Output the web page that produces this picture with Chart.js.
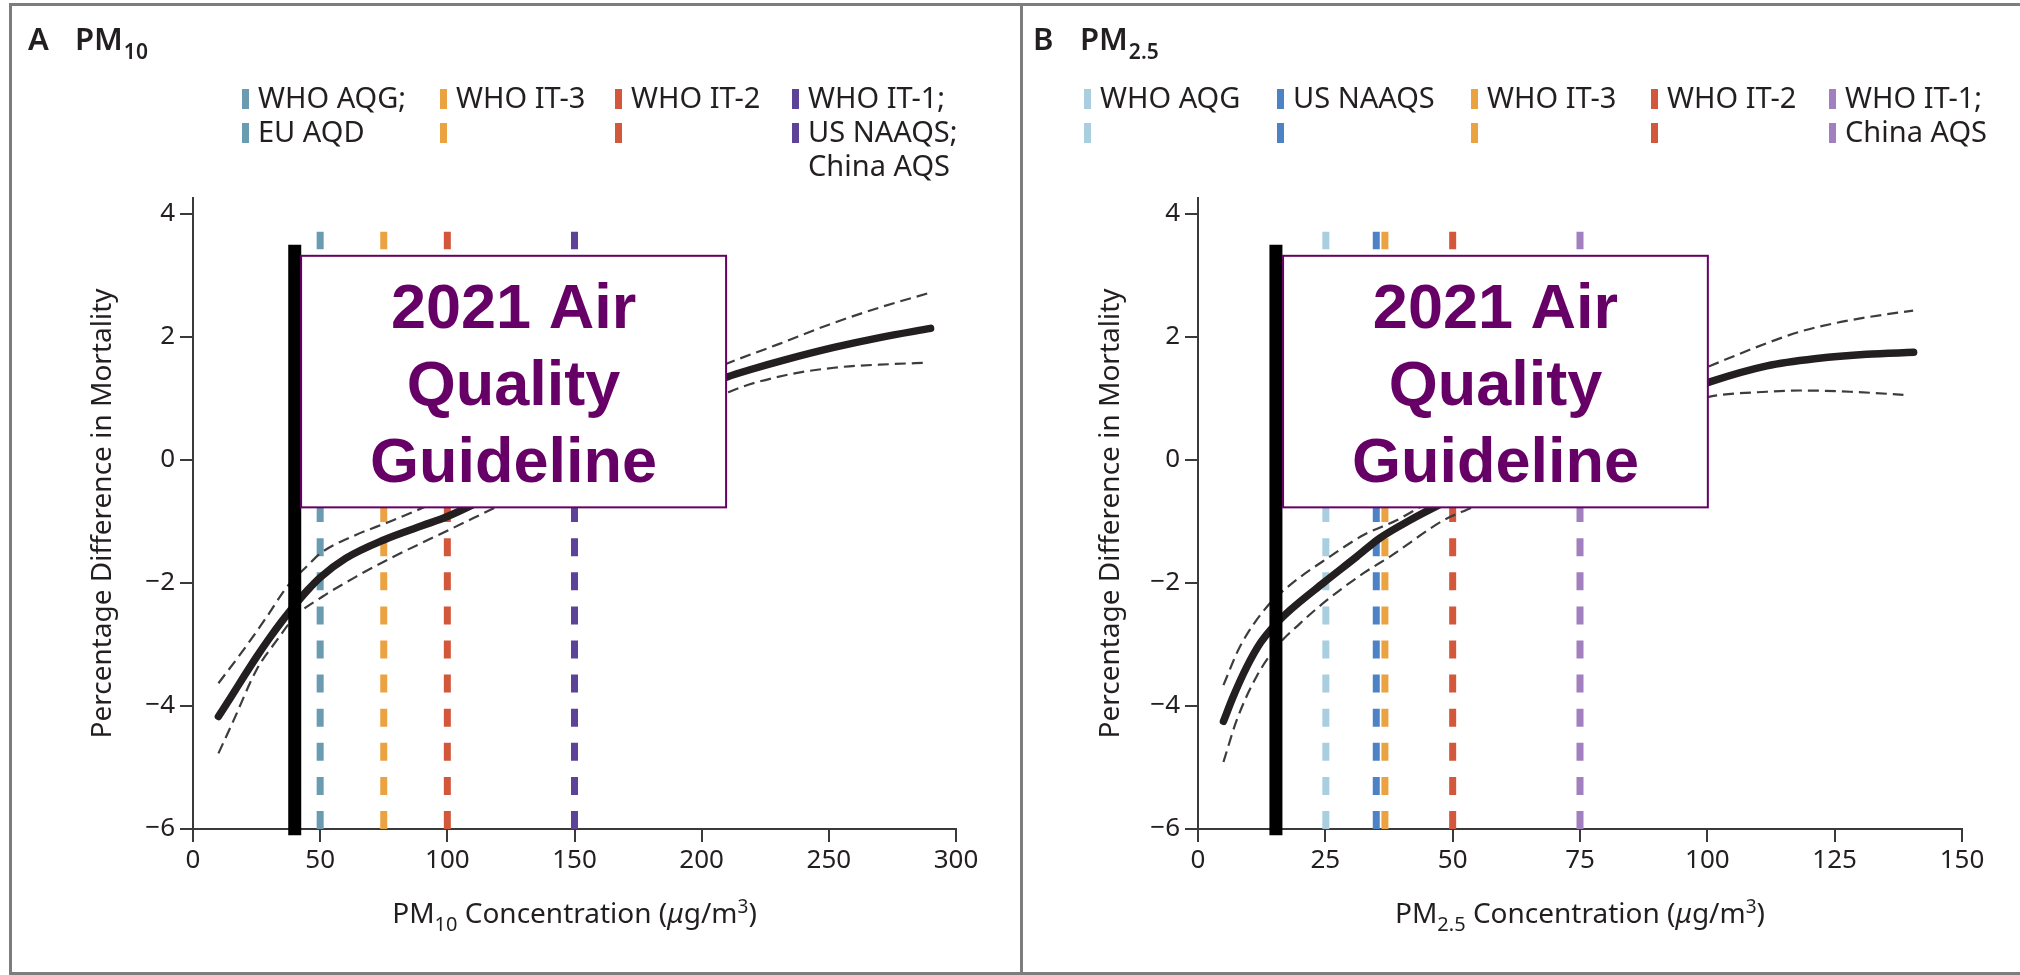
<!DOCTYPE html>
<html><head><meta charset="utf-8">
<script src="https://cdn.jsdelivr.net/npm/chart.js@4.4.1/dist/chart.umd.min.js"></script>
<style>
html,body{margin:0;padding:0;background:#fff;}
#wrap{position:relative;width:2020px;height:975px;overflow:hidden;background:#fff;}
.frame{position:absolute;background:#7d7d7d;}
canvas{position:absolute;top:0;}
</style></head><body>
<div id="wrap">
<canvas id="cA" width="1020" height="975" style="left:0;width:1020px;height:975px"></canvas>
<canvas id="cB" width="997" height="975" style="left:1023px;width:997px;height:975px"></canvas>
<div class="frame" style="left:9px;top:3px;width:2011px;height:3px"></div>
<div class="frame" style="left:9px;top:3px;width:3px;height:972px"></div>
<div class="frame" style="left:1020px;top:3px;width:3px;height:972px"></div>
<div class="frame" style="left:9px;top:972px;width:2011px;height:3px"></div>
</div>
<script>
// ---------------- DATA ----------------
const pm10Ticks = [0, 50, 100, 150, 200, 250, 300];
const pm25Ticks = [0, 25, 50, 75, 100, 125, 150];
const yTicks = [-6, -4, -2, 0, 2, 4];

const pm10CurveX = [10, 15, 20, 25, 30, 35, 40, 45, 50, 60, 75, 90, 100, 125, 150, 175, 200, 210, 220, 232, 252, 270, 290];
const pm10Curve  = [-4.17, -3.85, -3.52, -3.2, -2.9, -2.62, -2.36, -2.12, -1.91, -1.60, -1.30, -1.07, -0.92, -0.42, 0.1, 0.65, 1.18, 1.35, 1.48, 1.62, 1.83, 1.99, 2.14];
const pm10UpperX = [10, 20, 29, 37, 45, 50, 64, 77.5, 100, 125, 150, 175, 200, 210, 230, 250, 270, 289];
const pm10Upper  = [-3.63, -3.08, -2.55, -2.06, -1.72, -1.52, -1.22, -1.0, -0.6, -0.1, 0.45, 0.95, 1.40, 1.57, 1.88, 2.20, 2.48, 2.71];
const pm10LowerX = [10, 16, 25, 33, 40, 51, 64, 77.5, 100, 125, 150, 175, 200, 211, 232, 252, 275, 288];
const pm10Lower  = [-4.77, -4.23, -3.41, -2.93, -2.55, -2.22, -1.90, -1.60, -1.15, -0.65, -0.15, 0.35, 0.85, 1.11, 1.37, 1.50, 1.56, 1.58];

const pm25CurveX = [5, 6.9, 9.6, 12.2, 14.8, 18.1, 24.6, 31.2, 35.7, 41.6, 50, 60, 70, 80, 90, 100.5, 111.7, 121.5, 131.3, 140.5];
const pm25Curve  = [-4.25, -3.85, -3.36, -2.98, -2.71, -2.44, -2.0, -1.57, -1.27, -0.98, -0.62, -0.2, 0.2, 0.58, 0.95, 1.27, 1.53, 1.65, 1.72, 1.75];
const pm25UpperX = [5, 8.2, 13.5, 18.1, 25.9, 32.5, 39, 45, 50, 60, 70, 80, 90, 100.5, 111.7, 118.3, 124.8, 131.3, 140.4];
const pm25Upper  = [-3.66, -3.04, -2.39, -2.03, -1.57, -1.22, -0.98, -0.70, -0.48, -0.05, 0.38, 0.80, 1.18, 1.53, 1.90, 2.09, 2.22, 2.32, 2.43];
const pm25LowerX = [5, 7.6, 11.5, 15.4, 20, 25.3, 32.5, 37.7, 48.2, 55, 60, 70, 80, 90, 100.5, 111.7, 118.3, 128.1, 138.5];
const pm25Lower  = [-4.91, -4.23, -3.52, -3.04, -2.66, -2.28, -1.84, -1.57, -0.98, -0.72, -0.45, 0.0, 0.38, 0.78, 1.03, 1.11, 1.13, 1.11, 1.06];

const pm10Standards = [50, 75, 100, 150];
const pm10StandardLabels = [["WHO AQG;", "EU AQD"], ["WHO IT-3", ""], ["WHO IT-2", ""], ["WHO IT-1;", "US NAAQS;", "China AQS"]];
const pm25Standards = [25.1, 35, 36.7, 50, 75];
const pm25StandardLabels = [["WHO AQG", ""], ["US NAAQS", ""], ["WHO IT-3", ""], ["WHO IT-2", ""], ["WHO IT-1;", "China AQS"]];
const standardRange = [-6, 3.71];

const pm10Guideline = 40;
const pm25Guideline = 15.3;
const guidelineRange = [-6.1, 3.5];

const pm10BoxX = [42.5, 209.6];
const pm25BoxX = [16.7, 100.1];
const boxY = [-0.77, 3.32];
const boxText = ["2021 Air", "Quality", "Guideline"];

const yTitle = "Percentage Difference in Mortality";

// ---------------- STYLES ----------------
const pm10Colors = ['#6a9bb1', '#eba342', '#d2573b', '#5c4398'];
const pm25Colors = ['#a8cedf', '#4d83c5', '#eba342', '#d2573b', '#a27fbf'];
const INK = '#231f20';
const AXIS = '#3a3a3a';
const FONT = '"Noto Sans", "Open Sans", sans-serif';

const pts = (xs, ys) => xs.map((x, i) => ({x: x, y: ys[i]}));
const fmt = v => (v < 0 ? '\u2212' + Math.abs(v) : String(v));

const overlayPlugin = {
  id: 'overlay',
  afterDatasetsDraw(chart, args, o) {
    const {ctx, scales: {x, y}} = chart;
    const l = x.getPixelForValue(o.boxX[0]), r = x.getPixelForValue(o.boxX[1]);
    const t = y.getPixelForValue(boxY[1]), b = y.getPixelForValue(boxY[0]);
    ctx.save();
    ctx.fillStyle = '#ffffff';
    ctx.fillRect(l, t, r - l, b - t);
    ctx.strokeStyle = '#660066';
    ctx.lineWidth = 2;
    ctx.strokeRect(l, t, r - l, b - t);
    ctx.fillStyle = '#660066';
    ctx.font = 'bold 63px "Liberation Sans", Arial, sans-serif';
    ctx.textAlign = 'center';
    ctx.textBaseline = 'alphabetic';
    boxText.forEach((s, i) => ctx.fillText(s, (l + r) / 2, t + 72 + i * 77));
    ctx.restore();
  },
  afterDraw(chart, args, o) {
    const {ctx, chartArea} = chart;
    ctx.save();
    ctx.textBaseline = 'alphabetic';
    ctx.textAlign = 'left';
    ctx.fillStyle = INK;
    // panel heading
    ctx.font = '600 31px ' + FONT;
    ctx.fillText(o.letter, o.titleX, 50);
    const px = o.titleX + 47;
    ctx.fillText('PM', px, 50);
    const pw = ctx.measureText('PM').width;
    ctx.font = '600 21px ' + FONT;
    ctx.fillText(o.sub, px + pw + 1, 59);
    // legend
    o.labels.forEach((rows, i) => {
      const mx = o.legendX[i];
      ctx.fillStyle = o.colors[i];
      for (let r = 0; r < 2; r++) ctx.fillRect(mx, 108 + r * 34 - 19, 7, 20);
      ctx.fillStyle = INK;
      ctx.font = '29px ' + FONT;
      rows.forEach((s, r) => { if (s) ctx.fillText(s, mx + 16, 108 + r * 34); });
    });
    // x axis title with sub/superscripts
    const segs = [
      {t: 'PM', f: '28px ' + FONT, dy: 0},
      {t: o.sub, f: '20px ' + FONT, dy: 8},
      {t: ' Concentration (', f: '28px ' + FONT, dy: 0},
      {t: '\u03bc', f: 'italic 28px ' + FONT, dy: 0},
      {t: 'g/m', f: '28px ' + FONT, dy: 0},
      {t: '3', f: '19px ' + FONT, dy: -10},
      {t: ')', f: '28px ' + FONT, dy: 0}
    ];
    let total = 0;
    segs.forEach(s => { ctx.font = s.f; s.w = ctx.measureText(s.t).width; total += s.w; });
    let cx = (chartArea.left + chartArea.right) / 2 - total / 2;
    segs.forEach(s => { ctx.font = s.f; ctx.fillText(s.t, cx, 923 + s.dy); cx += s.w; });
    ctx.restore();
  }
};

function makeChart(id, cfg) {
  const datasets = [
    {data: pts([cfg.guideline, cfg.guideline], guidelineRange), borderColor: '#000', borderWidth: 13, borderCapStyle: 'butt', clip: false},
    {data: pts(cfg.cx, cfg.cy), borderColor: INK, borderWidth: 7.5, borderCapStyle: 'round', cubicInterpolationMode: 'monotone'},
    {data: pts(cfg.ux, cfg.uy), borderColor: '#3c3c3c', borderWidth: 2.2, borderDash: [11, 6], cubicInterpolationMode: 'monotone'},
    {data: pts(cfg.lx, cfg.ly), borderColor: '#3c3c3c', borderWidth: 2.2, borderDash: [11, 6], cubicInterpolationMode: 'monotone'}
  ];
  cfg.standards.forEach((v, i) => datasets.push({
    data: pts([v, v], standardRange), borderColor: cfg.colors[i], borderWidth: 7, borderDash: [18, 16.1], borderCapStyle: 'butt'
  }));
  return new Chart(document.getElementById(id), {
    type: 'line',
    data: {datasets: datasets},
    options: {
      responsive: false, animation: false, devicePixelRatio: 1, events: [],
      parsing: true,
      elements: {point: {radius: 0}, line: {tension: 0, fill: false}},
      layout: {padding: {left: 0, top: 198, right: cfg.padRight, bottom: 46}},
      plugins: {
        legend: {display: false}, tooltip: {enabled: false},
        overlay: {boxX: cfg.boxX, letter: cfg.letter, sub: cfg.sub, titleX: cfg.titleX,
                  labels: cfg.labels, legendX: cfg.legendX, colors: cfg.colors}
      },
      scales: {
        x: {
          type: 'linear', min: 0, max: cfg.xTicks[cfg.xTicks.length - 1],
          afterBuildTicks: s => { s.ticks = cfg.xTicks.map(v => ({value: v})); },
          afterFit: s => { s.height = 100; },
          grid: {drawOnChartArea: false, drawTicks: true, tickLength: 13, color: AXIS, lineWidth: 2},
          border: {display: true, color: AXIS, width: 2},
          ticks: {font: {family: FONT, size: 26}, color: INK, padding: 3, maxRotation: 0, autoSkip: false, callback: v => fmt(v)}
        },
        y: {
          type: 'linear', min: -6, max: 4.26,
          afterBuildTicks: s => { s.ticks = yTicks.map(v => ({value: v})); },
          afterFit: s => { s.width = cfg.yWidth; },
          grid: {drawOnChartArea: false, drawTicks: true, tickLength: 13, color: AXIS, lineWidth: 2},
          border: {display: true, color: AXIS, width: 2},
          ticks: {font: {family: FONT, size: 26}, color: INK, padding: 5, autoSkip: false, callback: v => fmt(v)},
          title: {display: true, text: yTitle, font: {family: FONT, size: 28}, color: INK, padding: {top: cfg.yTitlePad, bottom: 0}}
        }
      }
    },
    plugins: [overlayPlugin]
  });
}

makeChart('cA', {
  guideline: pm10Guideline, cx: pm10CurveX, cy: pm10Curve, ux: pm10UpperX, uy: pm10Upper, lx: pm10LowerX, ly: pm10Lower,
  standards: pm10Standards, colors: pm10Colors, labels: pm10StandardLabels, legendX: [242, 440, 615, 792],
  boxX: pm10BoxX, xTicks: pm10Ticks, yWidth: 193, padRight: 64, yTitlePad: 86,
  letter: 'A', sub: '10', titleX: 28
});
makeChart('cB', {
  guideline: pm25Guideline, cx: pm25CurveX, cy: pm25Curve, ux: pm25UpperX, uy: pm25Upper, lx: pm25LowerX, ly: pm25Lower,
  standards: pm25Standards, colors: pm25Colors, labels: pm25StandardLabels, legendX: [61, 254, 448, 628, 806],
  boxX: pm25BoxX, xTicks: pm25Ticks, yWidth: 175, padRight: 58, yTitlePad: 71,
  letter: 'B', sub: '2.5', titleX: 10
});
</script>
</body></html>
